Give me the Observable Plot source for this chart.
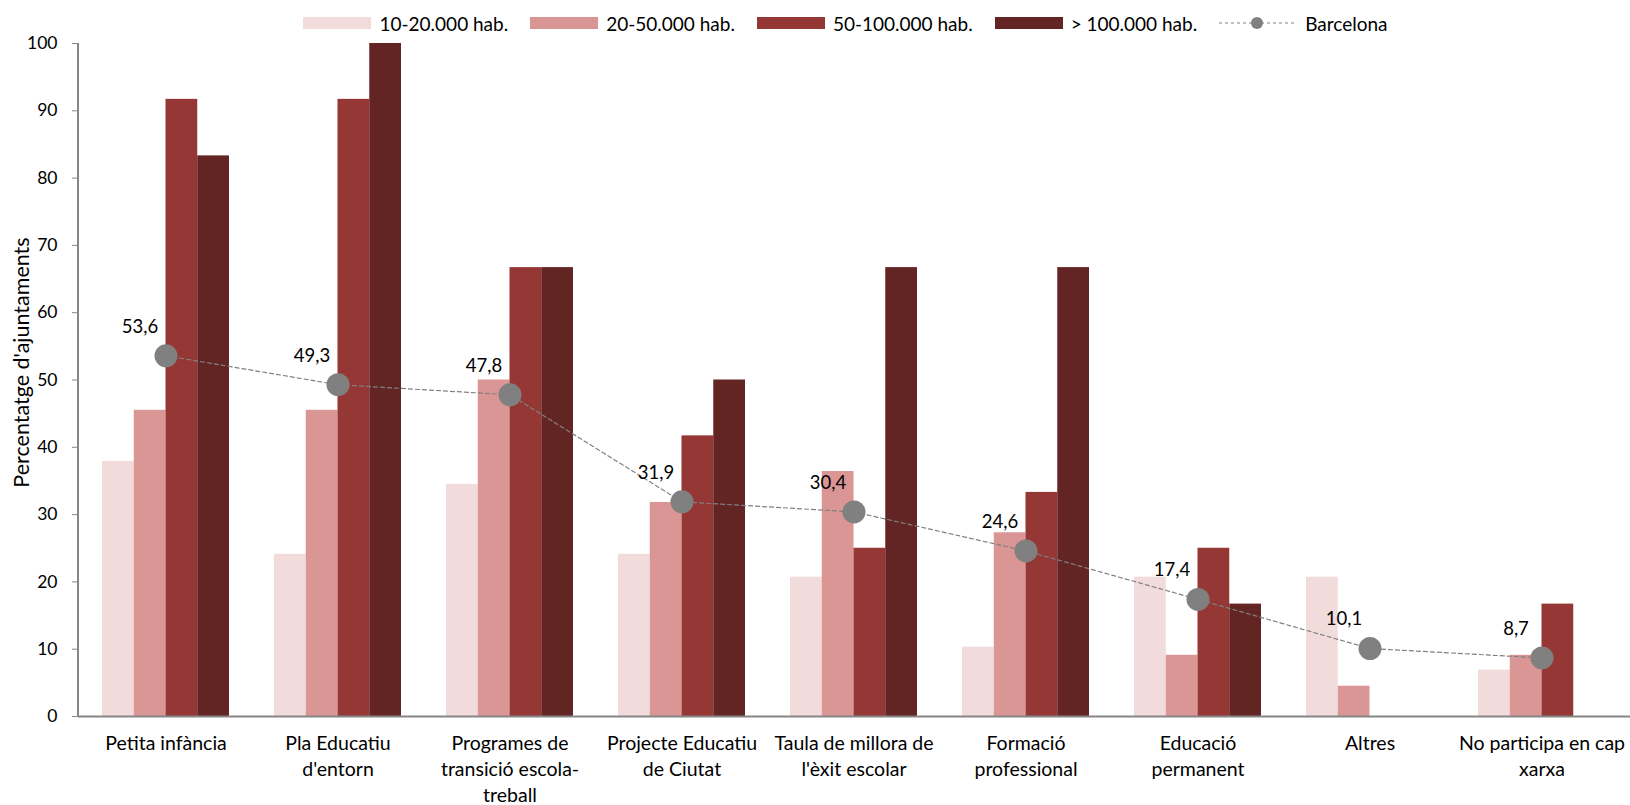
<!DOCTYPE html>
<html>
<head>
<meta charset="utf-8">
<script src="https://cdn.jsdelivr.net/npm/d3@7"></script>
<script src="https://cdn.jsdelivr.net/npm/@observablehq/plot@0.6"></script>
<style>
  html, body { margin: 0; padding: 0; background: #fff; overflow: hidden; }
  body { width: 1630px; height: 805px; font-family: Lato, "Open Sans", sans-serif; }
  #legend { height: 36px; box-sizing: border-box; padding-top: 10px; display: flex; align-items: center; justify-content: center; padding-left: 61px; font-size: 19px; color: #000; }
  .item { display: flex; align-items: center; margin: 0 11px; }
  .sw { width: 68px; height: 12px; margin-right: 8px; }
  .txt { white-space: nowrap; }
</style>
</head>
<body>
<div id="legend"></div>
<div id="chart"></div>
<script>
const categories = ["Petita infància", "Pla Educatiu d'entorn", "Programes de transició escola-treball", "Projecte Educatiu de Ciutat", "Taula de millora de l'èxit escolar", "Formació professional", "Educació permanent", "Altres", "No participa en cap xarxa"];
const categoryLabels = ["Petita infància", "Pla Educatiu\nd'entorn", "Programes de\ntransició escola-\ntreball", "Projecte Educatiu\nde Ciutat", "Taula de millora de\nl'èxit escolar", "Formació\nprofessional", "Educació\npermanent", "Altres", "No participa en cap\nxarxa"];
const seriesNames = ["10-20.000 hab.", "20-50.000 hab.", "50-100.000 hab.", "> 100.000 hab."];
const seriesColors = ["#F2DCDB", "#D99694", "#953735", "#632523"];
const values10_20 = [37.9, 24.1, 34.5, 24.1, 20.7, 10.3, 20.7, 20.7, 6.9];
const values20_50 = [45.5, 45.5, 50.0, 31.8, 36.4, 27.3, 9.1, 4.5, 9.1];
const values50_100 = [91.7, 91.7, 66.7, 41.7, 25.0, 33.3, 25.0, 0, 16.7];
const values100plus = [83.3, 100, 66.7, 50.0, 66.7, 66.7, 16.7, 0, 0];
const barcelonaName = "Barcelona";
const barcelona = [53.6, 49.3, 47.8, 31.9, 30.4, 24.6, 17.4, 10.1, 8.7];
const yTicks = [0, 10, 20, 30, 40, 50, 60, 70, 80, 90, 100];
const yLabel = "Percentatge d'ajuntaments";

const seriesValues = [values10_20, values20_50, values50_100, values100plus];
const rows = seriesValues.map((vals, i) => categories.map((c, j) => ({cat: c, series: seriesNames[i], value: vals[j]})));
const bcn = categories.map((c, j) => ({cat: c, value: barcelona[j]}));
const labelOf = new Map(categories.map((c, j) => [c, categoryLabels[j]]));
const fmt = v => v.toFixed(1).replace(".", ",");

// Legend
const legend = document.getElementById("legend");
seriesNames.forEach((s, i) => {
  const it = document.createElement("div"); it.className = "item";
  it.innerHTML = `<div class="sw" style="background:${seriesColors[i]}"></div><span class="txt">${s}</span>`;
  legend.appendChild(it);
});
{
  const it = document.createElement("div"); it.className = "item";
  it.innerHTML = `<svg width="76" height="14" style="margin-right:10px"><line x1="0" x2="76" y1="7" y2="7" stroke="#808080" stroke-dasharray="3,3"/><circle cx="38" cy="7" r="6" fill="#808080"/></svg><span class="txt">${barcelonaName}</span>`;
  legend.appendChild(it);
}

const W = 1630, H = 769, ML = 78, MR = 0, MT = 7, MB = 89;
const axisColor = "#868686";
const font = "Lato, 'Open Sans', sans-serif";

function build(barW) {
  return Plot.plot({
    width: W, height: H, marginLeft: ML, marginRight: MR, marginTop: MT, marginBottom: MB,
    style: {fontFamily: font, fontSize: "17px", color: "#000", background: "#fff", overflow: "visible"},
    x: {domain: categories, paddingInner: 0.26, paddingOuter: 0.13, axis: null},
    y: {domain: [0, 100], axis: null},
    marks: [
      ...rows.map((r, i) => Plot.barY(r, {x: "cat", y: "value", fill: seriesColors[i], insetLeft: i * barW, insetRight: (3 - i) * barW})),
      Plot.axisY({ticks: yTicks, tickSize: 6, tickPadding: 15, stroke: axisColor, fill: "#000", fontSize: 17.5, label: null}),
      Plot.axisX({tickSize: 0, tickPadding: 15, fontSize: 19.5, lineHeight: 26 / 19.5, fill: "#000", tickFormat: d => labelOf.get(d), label: null}),
      Plot.ruleY([0], {stroke: axisColor, strokeWidth: 2}),
      Plot.line(bcn, {x: "cat", y: "value", stroke: "#808080", strokeWidth: 1.2, strokeDasharray: "4,3"}),
      Plot.dot(bcn, {x: "cat", y: "value", r: 11.5, fill: "#808080", stroke: "none"}),
      Plot.text(bcn, {x: "cat", y: "value", text: d => fmt(d.value), dx: -26, dy: -29, fontSize: 18.5, fill: "#000"})
    ]
  });
}

let plot = build(0);
const bw = plot.scale("x").bandwidth;
plot = build(bw / 4);
const ys = plot.scale("y");
const svg = d3.select(plot);
svg.append("line").attr("x1", ML).attr("x2", ML).attr("y1", ys.apply(0)).attr("y2", ys.apply(100))
  .attr("stroke", axisColor).attr("stroke-width", 2);
const yMid = (ys.apply(0) + ys.apply(100)) / 2 - 17;
svg.append("text").attr("transform", `translate(21,${yMid}) rotate(-90)`)
  .attr("text-anchor", "middle").attr("dominant-baseline", "central")
  .attr("font-family", font).attr("font-size", 21.5).attr("fill", "#000").text(yLabel);
document.getElementById("chart").appendChild(plot);
</script>
</body>
</html>
